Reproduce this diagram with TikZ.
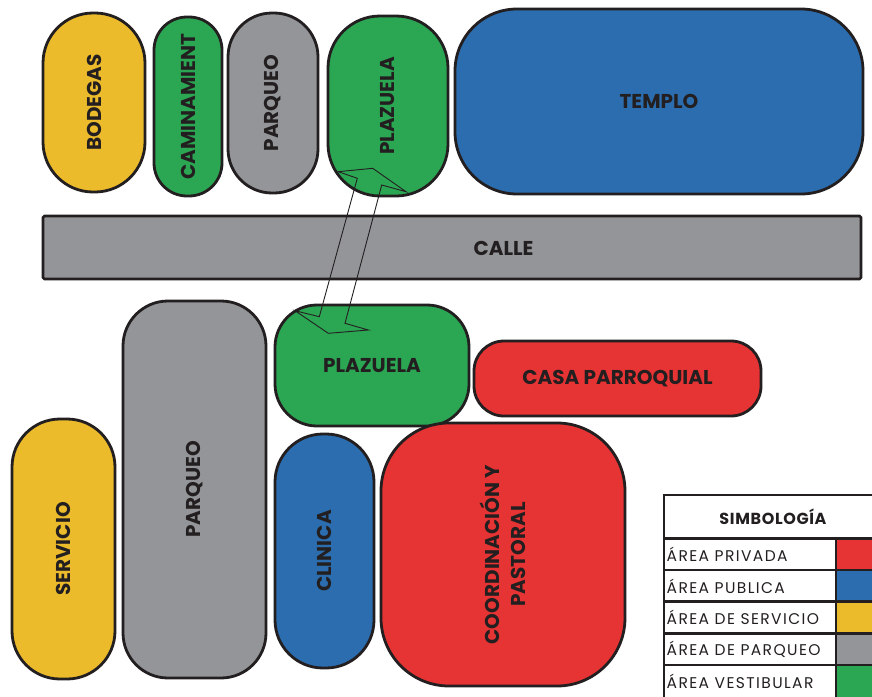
\documentclass[tikz,border=0pt]{standalone}
\usepackage{fontspec}
\setmainfont{Poppins}
\definecolor{cred}{HTML}{E63333}
\definecolor{cblue}{HTML}{2B6DAF}
\definecolor{cyel}{HTML}{EBBB2C}
\definecolor{cgray}{HTML}{939598}
\definecolor{cgreen}{HTML}{2BA653}
\definecolor{ink}{HTML}{231F20}
\begin{document}
\begin{tikzpicture}[x=1pt,y=-1pt,
  room/.style={draw=ink, line width=2.8pt, inner sep=0pt, text=ink,
    font=\bfseries\fontsize{20}{26}\selectfont},
  vroom/.style={room, rotate=90},
  lbl/.style={text=ink, inner sep=0pt, font=\bfseries\fontsize{20}{26}\selectfont},
  tab/.style={draw=ink, line width=2.6pt},
  legtxt/.style={anchor=west, text=ink, inner sep=0pt, font=\fontsize{15.5}{17}\selectfont\addfontfeatures{LetterSpace=9}},
  arrowline/.style={draw=ink, line width=0.9pt, line join=miter}
]
\useasboundingbox (0,0) rectangle (872,696);
\clip (0,0) rectangle (872,696);

% top row
\node[vroom, fill=cyel, minimum width=179pt, minimum height=102pt, rounded corners=50pt] (bodegas) at (94,102.5) {BODEGAS};
\node[vroom, fill=cgreen, minimum width=179pt, minimum height=68pt, rounded corners=33pt] (camin) at (188,106.5) {CAMINAMIENT};
\node[vroom, fill=cgray, minimum width=180pt, minimum height=90pt, rounded corners=44pt] (parq1) at (273,103) {PARQUEO};
\node[vroom, fill=cgreen, minimum width=180pt, minimum height=120pt, rounded corners=52pt] (plaz1) at (388,106) {PLAZUELA};
\node[room, fill=cblue, minimum width=408pt, minimum height=185pt, rounded corners=62pt] (templo) at (659,101.5) {TEMPLO};

% street
\node[room, fill=cgray, minimum width=818pt, minimum height=63pt, rounded corners=1.5pt] (calle) at (452,247.5) {};
\node[lbl] (calletxt) at (503.5,248) {CALLE};

% bottom group
\node[room, fill=cgreen, minimum width=194pt, minimum height=121pt, rounded corners=42pt] (plaz2) at (372,365.5) {PLAZUELA};
\node[room, fill=cred, minimum width=287pt, minimum height=75pt, rounded corners=30pt] (casa) at (617.5,378.5) {CASA PARROQUIAL};
\node[vroom, fill=cgray, minimum width=377pt, minimum height=143pt, rounded corners=45pt] (parq2) at (194.5,489.5) {PARQUEO};
\node[vroom, fill=cyel, minimum width=260pt, minimum height=103pt, rounded corners=48pt] (serv) at (63.5,549) {SERVICIO};
\node[vroom, fill=cblue, minimum width=234pt, minimum height=99pt, rounded corners=48pt] (clin) at (324.5,551) {CLINICA};
\node[vroom, fill=cred, minimum width=263pt, minimum height=244pt, rounded corners=68pt, align=center] (coord) at (503,554.5) {COORDINACIÓN Y\\PASTORAL};

% double arrow between the two plazuelas
\draw[arrowline] (338.3,171.7) -- (372.7,168.3) -- (406,191.7) -- (381.7,185)
  -- (345,323.3) -- (368.3,330) -- (328.3,333.3) -- (295,310.7)
  -- (319.3,316.7) -- (357.3,178.3) -- cycle;

% legend
\fill[cred]   (836,538.5) rectangle (880,570);
\fill[cblue]  (836,570) rectangle (880,601.7);
\fill[cyel]   (836,601.7) rectangle (880,633.3);
\fill[cgray]  (836,633.3) rectangle (880,665);
\fill[cgreen] (836,665) rectangle (880,705);
\draw[tab] (664,495) rectangle (880,705);
\draw[tab] (664,538.5) -- (880,538.5);
\draw[tab] (664,570) -- (880,570);
\draw[tab] (664,601.7) -- (880,601.7);
\draw[tab] (664,633.3) -- (880,633.3);
\draw[tab] (664,665) -- (880,665);
\draw[tab] (836,538.5) -- (836,705);
\node[text=ink, inner sep=0pt, font=\bfseries\fontsize{16}{18}\selectfont\addfontfeatures{LetterSpace=4}] (simb) at (773,517) {SIMBOLOGÍA};
\node[legtxt] (l1) at (666.5,554.3) {ÁREA PRIVADA};
\node[legtxt] (l2) at (666.5,586) {ÁREA PUBLICA};
\node[legtxt] (l3) at (666.5,617.6) {ÁREA DE SERVICIO};
\node[legtxt] (l4) at (666.5,649.2) {ÁREA DE PARQUEO};
\node[legtxt] (l5) at (666.5,681) {ÁREA VESTIBULAR};
\end{tikzpicture}
\end{document}
